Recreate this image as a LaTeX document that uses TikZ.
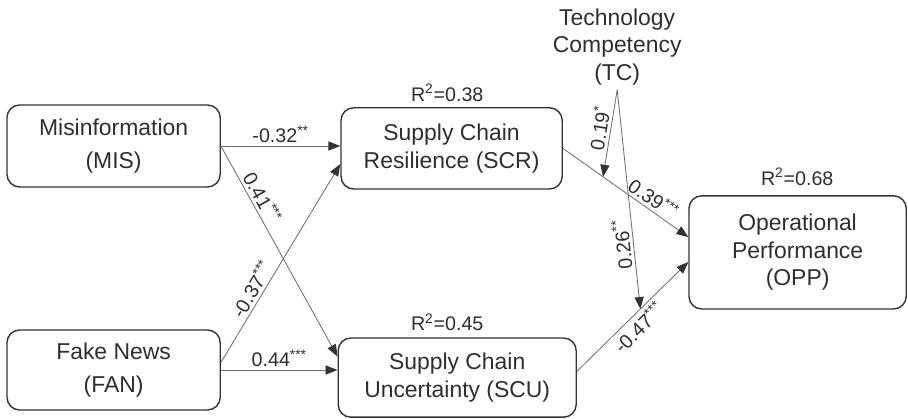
\documentclass[tikz,border=0pt]{standalone}
\usepackage{fontspec}
\setmainfont{Liberation Sans}
\usepackage{tikz}
\usetikzlibrary{arrows.meta}
\definecolor{boxgray}{HTML}{333333}
\definecolor{linegray}{HTML}{6E6E6E}
\definecolor{textgray}{HTML}{2E2E2E}
\tikzset{
  construct/.style={draw=boxgray, line width=1pt, rounded corners=9pt, align=center, text=textgray, inner sep=0pt, font=\fontsize{16.3}{19.5}\selectfont},
  exo_construct/.style={construct, font=\fontsize{16.3}{23.4}\selectfont},
  path_edge/.style={draw=linegray, line width=0.6pt, -{Triangle[length=8.5pt, width=6.5pt, color=boxgray]}},
  coef/.style={text=textgray, inner sep=2pt, font=\fontsize{14}{16}\selectfont},
  rsq/.style={text=textgray, font=\fontsize{14}{16}\selectfont}
}

\begin{document}
\begin{tikzpicture}
        \useasboundingbox (0, 0) rectangle (22.7, 10.45);
        \node[exo_construct, minimum width=5.33cm, minimum height=2.05cm] (MIS) at (2.84, 6.8) {Misinformation\\(MIS)};
        \node[exo_construct, minimum width=5.33cm, minimum height=2.0cm] (FAN) at (2.84, 1.2) {Fake News\\(FAN)};
        \node[construct, minimum width=5.53cm, minimum height=2.03cm] (SCR) at (11.29, 6.74) {Supply Chain\\Resilience (SCR)};
        \node[construct, minimum width=5.95cm, minimum height=1.98cm] (SCU) at (11.43, 1.01) {Supply Chain\\Uncertainty (SCU)};
        \node[construct, minimum width=5.43cm, minimum height=2.83cm] (OPP) at (19.94, 4.14) {Operational\\Performance\\(OPP)};
        \node[text=textgray, align=center, font=\fontsize{16.3}{19.5}\selectfont] (TC) at (15.43, 9.28) {Technology\\Competency\\(TC)};
        \node[rsq] (r2scr) at (11.18, 8.13) {R\textsuperscript{2}=0.38};
        \node[rsq] (r2scu) at (11.18, 2.4) {R\textsuperscript{2}=0.45};
        \node[rsq] (r2opp) at (19.93, 6.03) {R\textsuperscript{2}=0.68};
        \draw[path_edge] (MIS.east) -- node[coef, above] {-0.32\textsuperscript{**}} (MIS.east -| SCR.west);
        \draw[path_edge] (MIS.east) -- node[coef, above, sloped, pos=0.27] {0.41\textsuperscript{***}} (SCU.170);
        \draw[path_edge] (FAN.4) -- node[coef, above, sloped, pos=0.34] {-0.37\textsuperscript{***}} (SCR.188);
        \draw[path_edge] (FAN.east) -- node[coef, above] {0.44\textsuperscript{***}} (FAN.east -| SCU.west);
        \draw[path_edge] (SCR.east) -- coordinate[pos=0.32] (m1) node[coef, above, sloped, pos=0.67] {0.39\textsuperscript{***}} (OPP.172);
        \draw[path_edge] (SCU.3) -- coordinate[pos=0.57] (m2) node[coef, below, sloped, pos=0.48] {-0.47\textsuperscript{***}} (OPP.185);
        \draw[path_edge] (TC.south) -- node[coef, above, sloped, pos=0.46] {0.19\textsuperscript{*}} (m1);
        \draw[path_edge] (TC.south) -- node[coef, above, sloped, rotate=180, pos=0.7] {0.26\textsuperscript{**}} (m2);
\end{tikzpicture}
\end{document}
